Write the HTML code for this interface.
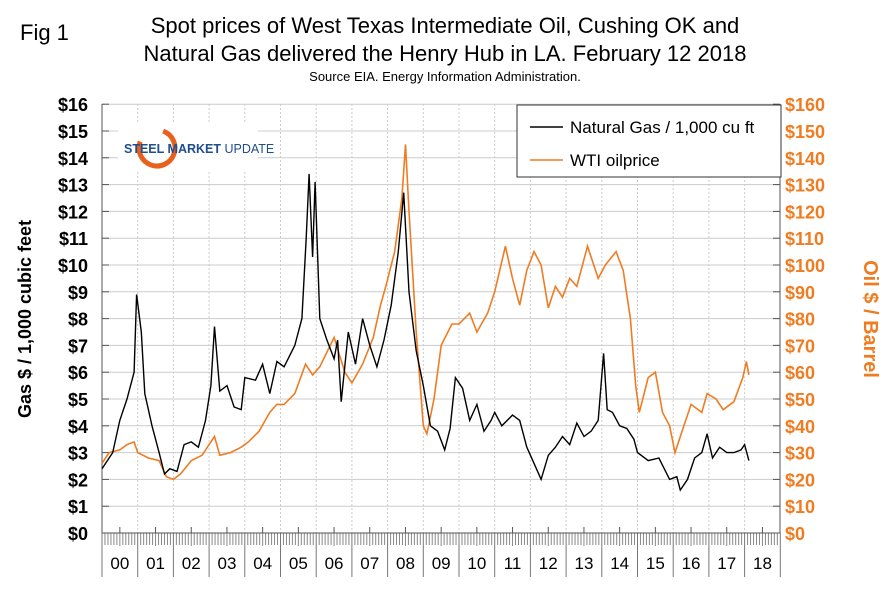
<!DOCTYPE html>
<html><head><meta charset="utf-8"><style>
body{margin:0;background:#fff;font-family:"Liberation Sans",Arial,sans-serif}
</style></head><body>
<svg id="s" width="891" height="587" viewBox="0 0 891 587" xmlns="http://www.w3.org/2000/svg" font-family="Liberation Sans, Arial, sans-serif">
<rect width="891" height="587" fill="#fff"/>
<text x="20" y="40" font-size="22">Fig 1</text>
<text x="445" y="33" font-size="22" text-anchor="middle">Spot prices of West Texas Intermediate Oil, Cushing OK and</text>
<text x="445" y="61" font-size="22" text-anchor="middle">Natural Gas delivered the Henry Hub in LA. February 12 2018</text>
<text x="445" y="81" font-size="13" text-anchor="middle">Source EIA. Energy Information Administration.</text>
<g id="grid"></g>
<rect x="118" y="122" width="140" height="50" fill="#fff"/>
<g>
<circle cx="157" cy="148" r="18" fill="none" stroke="#e8601c" stroke-width="5" stroke-dasharray="85 28" transform="rotate(-70 157 148)"/>
<text x="124" y="153" font-size="12.5" font-weight="bold" fill="#1f4e8c">STEEL MARKET <tspan font-weight="normal">UPDATE</tspan></text>
</g>
<g id="lines"></g>
<text transform="translate(31,319) rotate(-90)" font-size="18" font-weight="bold" text-anchor="middle">Gas $ / 1,000 cubic feet</text>
<text transform="translate(864,319) rotate(90)" font-size="20" font-weight="bold" fill="#f07c22" text-anchor="middle">Oil $ / Barrel</text>
<rect x="517" y="105" width="264" height="72" fill="#fff" stroke="#333" stroke-width="1"/>
<line x1="530" y1="127" x2="563" y2="127" stroke="#000" stroke-width="1.5"/>
<text x="570" y="133" font-size="17">Natural Gas / 1,000 cu ft</text>
<line x1="530" y1="160" x2="563" y2="160" stroke="#f07c22" stroke-width="1.5"/>
<text x="570" y="166" font-size="17">WTI oilprice</text>
</svg>
<script>
const NS="http://www.w3.org/2000/svg";
const g=document.getElementById('grid'),L=document.getElementById('lines');
function el(p,t,a,txt){const e=document.createElementNS(NS,t);for(const k in a)e.setAttribute(k,a[k]);if(txt!==undefined)e.textContent=txt;p.appendChild(e);return e;}
const X0=102,YW=35.7,Y0=533,U=26.8;
for(let i=0;i<=16;i++){const y=Y0-i*U;
 el(g,'line',{x1:X0,x2:780,y1:y,y2:y,stroke:'#ccc','stroke-width':1});
 el(g,'line',{x1:X0,x2:X0+7,y1:y,y2:y,stroke:'#555'});
 el(g,'line',{x1:773,x2:780,y1:y,y2:y,stroke:'#555'});
 el(g,'text',{x:88,y:y+7,'font-size':18,'font-weight':'bold','text-anchor':'end'},'$'+i);
 el(g,'text',{x:785,y:y+7,'font-size':18,'font-weight':'bold',fill:'#f07c22'},'$'+(i*10));
}
for(let k=0;k<=19;k++){const x=X0+k*YW;
 if(k>0&&k<19)el(g,'line',{x1:x,x2:x,y1:104,y2:Y0,stroke:'#ccc','stroke-dasharray':'2,2'});
 el(g,'line',{x1:x,x2:x,y1:Y0,y2:577,stroke:'#777'});
 if(k<19){el(g,'text',{x:x+YW/2,y:569,'font-size':17,'text-anchor':'middle'},String(k).padStart(2,'0'));
  for(let m=1;m<12;m++){const xm=x+m*YW/12;el(g,'line',{x1:xm,x2:xm,y1:Y0,y2:Y0+(m==6?13:12),stroke:'#888'});}
  el(g,'line',{x1:x+YW/2,x2:x+YW/2,y1:Y0-6,y2:Y0,stroke:'#555'});}
}
el(g,'line',{x1:X0,x2:X0,y1:104,y2:Y0,stroke:'#555'});
el(g,'line',{x1:780,x2:780,y1:104,y2:Y0,stroke:'#555'});
el(g,'line',{x1:X0,x2:780,y1:Y0,y2:Y0,stroke:'#555'});
const gas=[0,2.4,.3,3,.5,4.2,.7,5,.9,6,.97,8.9,1.1,7.5,1.2,5.2,1.4,4,1.6,3,1.75,2.2,1.9,2.4,2.1,2.3,2.3,3.3,2.5,3.4,2.7,3.2,2.9,4.2,3.05,5.5,3.15,7.7,3.3,5.3,3.5,5.5,3.7,4.7,3.9,4.6,4,5.8,4.3,5.7,4.5,6.3,4.7,5.2,4.9,6.4,5.1,6.2,5.4,7,5.6,8,5.72,11,5.8,13.4,5.9,10.3,5.97,13.1,6.1,8,6.3,7.2,6.5,6.5,6.6,7.2,6.7,4.9,6.9,7.5,7.1,6.3,7.3,8,7.5,7,7.7,6.2,7.9,7.2,8.1,8.5,8.3,10.5,8.45,12.7,8.6,9,8.8,6.8,9,5.5,9.2,4,9.4,3.8,9.6,3.1,9.75,3.9,9.9,5.8,10.1,5.4,10.3,4.2,10.5,4.8,10.7,3.8,10.9,4.2,11,4.5,11.2,4,11.5,4.4,11.7,4.2,11.9,3.2,12.1,2.6,12.3,2,12.5,2.9,12.7,3.2,12.9,3.6,13.1,3.3,13.3,4.1,13.5,3.6,13.7,3.8,13.9,4.2,14.05,6.7,14.15,4.6,14.3,4.5,14.5,4,14.7,3.9,14.9,3.5,15,3,15.3,2.7,15.6,2.8,15.9,2,16.1,2.1,16.2,1.6,16.4,2,16.6,2.8,16.8,3,16.95,3.7,17.1,2.8,17.3,3.2,17.5,3,17.7,3,17.9,3.1,18,3.3,18.12,2.7];
const oil=[0,26,.2,30,.5,31,.7,33,.9,34,1,30,1.3,28,1.6,27,1.8,21,2,20,2.2,22,2.5,27,2.8,29,3,33,3.15,36,3.3,29,3.6,30,3.9,32,4.1,34,4.4,38,4.7,45,4.9,48,5.1,48,5.4,52,5.7,63,5.9,59,6.1,62,6.5,73,6.8,60,7,56,7.3,63,7.6,73,7.8,85,7.95,92,8.2,105,8.4,125,8.5,145,8.6,120,8.8,75,9,40,9.1,37,9.3,50,9.5,70,9.8,78,10,78,10.3,82,10.5,75,10.8,82,11,90,11.3,107,11.5,95,11.7,85,11.9,98,12.1,105,12.3,100,12.5,84,12.7,92,12.9,88,13.1,95,13.3,92,13.6,107,13.9,95,14.1,100,14.4,105,14.6,98,14.8,80,14.95,55,15.05,45,15.3,58,15.5,60,15.7,45,15.9,40,16.05,30,16.3,40,16.5,48,16.8,45,16.95,52,17.2,50,17.4,46,17.7,49,17.95,58,18.05,64,18.12,59];
function pts(a,s){let r=[];for(let i=0;i<a.length;i+=2)r.push((X0+a[i]*YW).toFixed(1)+','+(Y0-a[i+1]*s*U).toFixed(1));return r.join(' ');}
el(L,'polyline',{points:pts(oil,0.1),fill:'none',stroke:'#f07c22','stroke-width':1.6});
el(L,'polyline',{points:pts(gas,1),fill:'none',stroke:'#000','stroke-width':1.4});
</script>
</body></html>
